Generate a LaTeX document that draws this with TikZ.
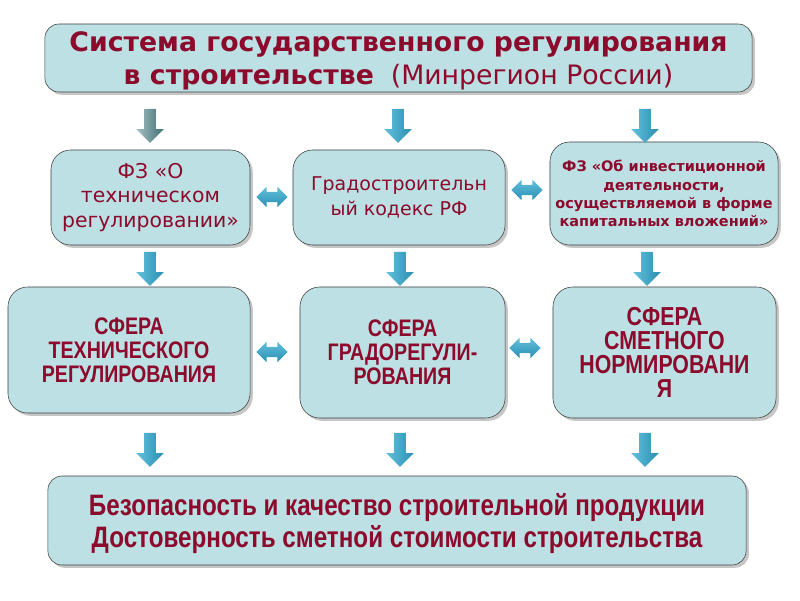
\documentclass[tikz,border=0pt]{standalone}
\usepackage{fontspec}
\setmainfont{DejaVu Sans}
\newfontfamily\narrowfont{Liberation Sans}[FakeStretch=0.82]
\usetikzlibrary{shapes.arrows,shadows,positioning}
\definecolor{boxfill}{HTML}{BCE0E3}
\definecolor{txtred}{HTML}{8C0A2C}
\definecolor{arrlight}{HTML}{62C0DC}
\definecolor{arrdark}{HTML}{2A8FB2}
\definecolor{graylight}{HTML}{A7C2C4}
\definecolor{graydark}{HTML}{3E6D72}
\tikzset{%
  box/.style={draw=black!75, fill=boxfill, rounded corners=14pt, align=center,
    text=txtred, inner sep=2pt,
    drop shadow={shadow xshift=2pt, shadow yshift=-2pt, opacity=0.45}},
  down arrow/.style={single arrow, single arrow head extend=0.2cm,
    inner xsep=0pt, inner ysep=0.14cm, minimum height=0.85cm, rotate=-90,
    left color=arrlight, right color=arrdark},
  both arrow/.style={double arrow, double arrow head extend=0.13cm,
    inner xsep=0pt, inner ysep=0.12cm, minimum height=0.78cm,
    top color=arrlight, bottom color=arrdark}
}

\begin{document}
\begin{tikzpicture}[x=0.025cm, y=-0.025cm]
  \useasboundingbox (0,0) rectangle (800,600);

  % main box
  \node[box, rounded corners=10pt, minimum width=17.675cm, minimum height=1.7cm,
    text depth=0pt, font=\fontsize{19}{23}\selectfont] (sys) at (398.5,58)
    {\textbf{Система государственного регулирования}\\
     \textbf{в строительстве}\ \ (Минрегион России)};

  % laws
  \node[box, minimum width=4.975cm, minimum height=2.375cm,
    font=\fontsize{14.5}{17.7}\selectfont] (law1) at (150.5,197.5)
    {ФЗ «О\\ техническом\\ регулировании»};
  \node[box, minimum width=5.3cm, minimum height=2.375cm,
    font=\fontsize{13.5}{17.7}\selectfont] (law2) at (399,197.5)
    {Градостроительн\\ ый кодекс РФ};
  \node[box, minimum width=5.7cm, minimum height=2.575cm,
    font=\fontsize{10.3}{13}\selectfont\bfseries] (law3) at (664,193.5)
    {ФЗ «Об инвестиционной\\ деятельности,\\ осуществляемой в форме\\ капитальных вложений»};

  % spheres
  \node[box, minimum width=6.05cm, minimum height=3.15cm,
    font=\narrowfont\fontsize{17}{17.2}\selectfont\bfseries] (sph1) at (129,350)
    {СФЕРА\\ ТЕХНИЧЕСКОГО\\ РЕГУЛИРОВАНИЯ};
  \node[box, minimum width=5.125cm, minimum height=3.275cm,
    font=\narrowfont\fontsize{17}{17.2}\selectfont\bfseries] (sph2) at (402.5,352.5)
    {СФЕРА\\ ГРАДОРЕГУЛИ-\\ РОВАНИЯ};
  \node[box, minimum width=5.575cm, minimum height=3.275cm,
    font=\narrowfont\fontsize{18.5}{17.2}\selectfont\bfseries] (sph3) at (664.5,352.5)
    {СФЕРА\\ СМЕТНОГО\\ НОРМИРОВАНИ\\ Я};

  % result
  \node[box, rounded corners=10pt, minimum width=17.45cm, minimum height=2.225cm,
    text depth=0pt, font=\narrowfont\fontsize{21}{22.5}\selectfont\bfseries] (res) at (397,520.5)
    {Безопасность и качество строительной продукции\\
     Достоверность сметной стоимости строительства};

  % arrows down
  \node[down arrow, left color=graylight, right color=graydark] (a1) at (150,123) {};
  \node[down arrow] (a2) at (398,123) {};
  \node[down arrow] (a3) at (645,123) {};
  \node[down arrow] (a4) at (150,266) {};
  \node[down arrow] (a5) at (400,266) {};
  \node[down arrow] (a6) at (647,266) {};
  \node[down arrow] (a7) at (150,447) {};
  \node[down arrow] (a8) at (400,447) {};
  \node[down arrow] (a9) at (645,447) {};

  % arrows between
  \node[both arrow] (h1) at (272,197) {};
  \node[both arrow] (h2) at (527,190) {};
  \node[both arrow] (h3) at (272,352) {};
  \node[both arrow] (h4) at (525,348) {};
\end{tikzpicture}
\end{document}
